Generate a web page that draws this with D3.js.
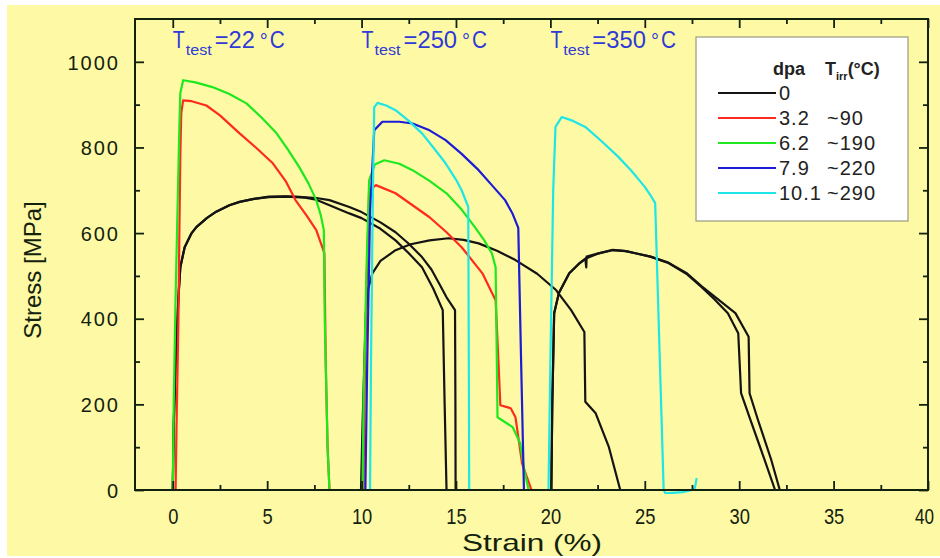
<!DOCTYPE html>
<html><head><meta charset="utf-8">
<script src="https://cdn.jsdelivr.net/npm/d3@7"></script>
<style>
body{margin:0;background:#fff;}
text{font-family:"Liberation Sans",Arial,sans-serif;}
</style></head>
<body><svg id="c" width="940" height="558"></svg>
<script>
// ---------- data ----------
const xTicks = [0,5,10,15,20,25,30,35,40];
const yTicks = [0,200,400,600,800,1000];
const testTemps = ["22","250","350"];
const testStrainPos = [0,10,20];
const legendDpa = ["0","3.2","6.2","7.9","10.1"];
const legendTirr = ["","~90","~190","~220","~290"];
const seriesColors = ["#141414","#ff2a1f","#1ee81e","#1c1cd6","#1ee6e6"];

// dpa 0 (black)
const black22a = [[0,0],[0.05,150],[0.15,300],[0.3,450],[0.4,520],[0.63,567],[1.0,600],[1.25,614],[1.8,635],[2.3,650],[3.0,665],[3.54,673],[4.3,680],[5.1,685],[6.0,686],[6.5,685],[7.6,682],[8.3,677],[9.35,661],[10.0,649],[11.0,625],[11.8,602],[12.5,575],[13.2,544],[13.7,515],[14.1,483],[14.5,450],[14.95,420],[14.97,200],[14.98,0]];
const black22b = [[0,0],[0.05,150],[0.15,300],[0.3,450],[0.4,520],[0.63,567],[1.0,600],[1.25,614],[1.8,635],[2.3,650],[3.0,665],[3.54,673],[4.3,680],[5.1,684],[6.0,685],[7.0,683],[7.6,678],[8.3,665],[9.35,646],[10.0,635],[11.0,610],[11.8,583],[12.5,553],[13.2,520],[13.8,470],[14.3,420],[14.4,200],[14.5,0]];
const black250 = [[9.97,0],[10.05,150],[10.15,300],[10.23,413],[10.35,470],[10.57,506],[11.0,535],[11.8,560],[12.6,574],[13.6,583],[14.6,588],[15.4,584],[16.2,576],[17.2,558],[18.15,537],[19.3,505],[20.3,467],[21.1,420],[21.8,369],[21.85,206],[22.4,179],[23.1,100],[23.7,0]];
const black350a = [[20.05,0],[20.1,200],[20.2,413],[20.45,460],[21.0,506],[21.5,528],[21.85,540],[21.9,520],[21.92,545],[22.5,552],[23.3,560],[24.0,558],[24.5,553],[25.3,545],[26.25,530],[27.2,505],[28.0,474],[28.7,445],[29.4,413],[29.95,366],[30.1,226],[30.6,163],[31.35,70],[31.9,0]];
const black350b = [[20.05,0],[20.1,200],[20.2,413],[20.45,460],[21.0,506],[21.5,528],[21.85,540],[22.5,552],[23.3,561],[24.0,558],[24.5,553],[25.3,545],[26.25,531],[27.2,507],[28.0,476],[28.8,448],[29.8,413],[30.5,358],[30.55,226],[31.0,163],[31.7,70],[32.15,0]];
// dpa 3.2 (red)
const red22 = [[0.15,0],[0.2,150],[0.3,400],[0.35,600],[0.4,780],[0.45,880],[0.55,910],[1.0,908],[1.78,898],[2.5,875],[3.54,833],[4.4,800],[5.3,763],[6.0,720],[6.5,677],[7.1,640],[7.6,607],[8.03,553],[8.1,300],[8.2,100],[8.3,0]];
const red250 = [[10.1,0],[10.15,200],[10.25,450],[10.4,700],[10.76,712],[11.8,693],[12.7,665],[13.6,637],[14.5,602],[15.3,567],[16.4,506],[17.1,443],[17.25,300],[17.35,198],[17.9,191],[18.15,170],[18.5,62],[19.0,0]];
// dpa 6.2 (green)
const green22 = [[0,0],[0.05,200],[0.15,450],[0.25,650],[0.35,850],[0.4,927],[0.55,957],[1.2,952],[2.1,941],[3.0,925],[3.9,903],[4.7,870],[5.5,833],[6.1,795],[6.7,754],[7.2,715],[7.6,677],[7.85,640],[8.0,607],[8.05,400],[8.2,100],[8.3,0]];
const green250 = [[10.05,0],[10.1,200],[10.25,500],[10.4,723],[10.7,760],[11.2,770],[12.0,762],[12.7,747],[13.6,722],[14.5,693],[15.3,655],[16.0,614],[16.5,583],[16.9,553],[17.1,520],[17.15,350],[17.2,170],[18.0,147],[18.4,109],[18.6,50],[18.85,0]];
// dpa 7.9 (blue)
const blue250 = [[10.2,0],[10.3,300],[10.45,650],[10.67,840],[11.1,860],[12.0,860],[12.7,856],[13.6,840],[14.45,817],[15.3,785],[16.2,747],[16.9,712],[17.6,677],[18.0,645],[18.3,612],[18.45,300],[18.6,0]];
// dpa 10.1 (cyan)
const cyan250 = [[10.45,0],[10.5,300],[10.6,700],[10.67,894],[10.85,904],[11.3,898],[11.8,887],[12.5,862],[13.2,833],[13.8,800],[14.45,763],[15.0,725],[15.3,700],[15.65,661],[15.68,300],[15.7,0]];
const cyan350 = [[19.9,0],[20.0,300],[20.15,700],[20.27,848],[20.6,871],[21.2,862],[21.85,848],[22.7,815],[23.6,778],[24.3,745],[25.0,708],[25.35,685],[25.55,670],[26.0,0],[26.1,-8],[27.0,-5],[27.5,0],[27.65,5],[27.75,28]];

const curves = [
  {d:black22a,s:0},{d:black22b,s:0},{d:black250,s:0},{d:black350a,s:0},{d:black350b,s:0},
  {d:red22,s:1},{d:green22,s:2},
  {d:red250,s:1},{d:green250,s:2},{d:blue250,s:3},{d:cyan250,s:4},
  {d:cyan350,s:4}
];

// ---------- layout ----------
const svg = d3.select("#c");
const L=135,R=928,T=19,B=490;
const x = d3.scaleLinear().domain([-2,40]).range([L,R]);
const y = d3.scaleLinear().domain([0,1100]).range([B,T]);
const ink="#13220f";

svg.append("rect").attr("x",7).attr("y",5).attr("width",933).attr("height",551).attr("fill","#fef9a4");

// curves
svg.append("clipPath").attr("id","pc").append("rect").attr("x",L).attr("y",T).attr("width",R-L).attr("height",B-T+4);
const line = d3.line().x(d=>x(d[0])).y(d=>y(d[1]));
const g = svg.append("g").attr("clip-path","url(#pc)");
curves.forEach(c=>{
  g.append("path").attr("d",line(c.d)).attr("fill","none")
   .attr("stroke",seriesColors[c.s]).attr("stroke-width",2.2).attr("stroke-linejoin","round");
});

// axes
const minorX = d3.range(-2.5,40.1,2.5).filter(v=>v>-2 && !xTicks.includes(v));
const minorY = d3.range(100,1100,200);
function axisG(axis,tx,ty){return svg.append("g").attr("transform",`translate(${tx},${ty})`).call(axis);}
const bx = axisG(d3.axisBottom(x).tickValues(xTicks).tickSize(-9).tickPadding(18).tickFormat(d3.format("d")),0,B);
axisG(d3.axisBottom(x).tickValues(minorX).tickSize(-5).tickFormat(""),0,B);
axisG(d3.axisTop(x).tickValues(xTicks).tickSize(-9).tickFormat(""),0,T);
axisG(d3.axisTop(x).tickValues(minorX).tickSize(-5).tickFormat(""),0,T);
const ly = axisG(d3.axisLeft(y).tickValues(yTicks).tickSize(-9).tickPadding(15).tickFormat(d3.format("d")),L,0);
axisG(d3.axisLeft(y).tickValues(minorY).tickSize(-5).tickFormat(""),L,0);
axisG(d3.axisRight(y).tickValues(yTicks).tickSize(-9).tickFormat(""),R,0);
axisG(d3.axisRight(y).tickValues(minorY).tickSize(-5).tickFormat(""),R,0);
svg.selectAll(".domain").remove();
svg.selectAll(".tick line").attr("stroke",ink).attr("stroke-width",1.8);
bx.selectAll("text").attr("font-size",22).attr("fill",ink)
  .attr("textLength",function(){return this.textContent.length*10.2;}).attr("lengthAdjust","spacingAndGlyphs");
bx.selectAll(".tick").filter(d=>d===40).select("text").attr("dx",-4).attr("textLength",19);
ly.selectAll("text").attr("font-size",20).attr("fill",ink).attr("letter-spacing",2).attr("dy","0.36em");
svg.append("rect").attr("x",L).attr("y",T).attr("width",R-L).attr("height",B-T).attr("fill","none").attr("stroke",ink).attr("stroke-width",2);

// axis titles
svg.append("text").attr("x",532).attr("y",551).attr("text-anchor","middle")
  .attr("font-size",24).attr("fill",ink).attr("textLength",140).attr("lengthAdjust","spacingAndGlyphs").text("Strain (%)");
svg.append("text").attr("transform","translate(41,270) rotate(-90)").attr("text-anchor","middle")
  .attr("font-size",24).attr("fill",ink).text("Stress [MPa]");

// test temperature annotations
testTemps.forEach((t,i)=>{
  const x0 = x(testStrainPos[i]);
  const tt = svg.append("text").attr("y",48).attr("font-size",23).attr("fill","#2f3ad8");
  tt.append("tspan").attr("x",x0).attr("textLength",12).attr("lengthAdjust","spacingAndGlyphs").text("T");
  tt.append("tspan").attr("x",x0+13).attr("dy",7).attr("font-size",14).attr("textLength",26).attr("lengthAdjust","spacingAndGlyphs").text("test");
  const w = t.length*13.5;
  tt.append("tspan").attr("x",x0+42).attr("dy",-7).attr("textLength",13+w).attr("lengthAdjust","spacingAndGlyphs").text("="+t);
  tt.append("tspan").attr("x",x0+42+w+18).attr("font-size",20).text("°");
  tt.append("tspan").attr("x",x0+42+w+28).attr("textLength",15).attr("lengthAdjust","spacingAndGlyphs").text("C");
});

// legend
const lg = svg.append("g");
lg.append("rect").attr("x",696).attr("y",37).attr("width",212).attr("height",184)
  .attr("fill","#fff").attr("stroke","#9a9a80").attr("stroke-width",1.2);
const hd = lg.append("text").attr("x",773).attr("y",75).attr("font-size",18).attr("font-weight","bold").attr("fill","#222");
hd.append("tspan").text("dpa");
hd.append("tspan").attr("x",825).text("T");
hd.append("tspan").attr("font-size",11).attr("dy",5).text("irr");
hd.append("tspan").attr("dy",-5).text("(°C)");
legendDpa.forEach((d,i)=>{
  const yy = 93+i*25;
  lg.append("line").attr("x1",718).attr("x2",776).attr("y1",yy).attr("y2",yy)
    .attr("stroke",seriesColors[i]).attr("stroke-width",2.2);
  lg.append("text").attr("x",779).attr("y",yy+7).attr("font-size",20).attr("fill","#222").attr("letter-spacing",1).text(d);
  lg.append("text").attr("x",827).attr("y",yy+7).attr("font-size",20).attr("fill","#222").attr("letter-spacing",1).text(legendTirr[i]);
});
</script></body></html>
